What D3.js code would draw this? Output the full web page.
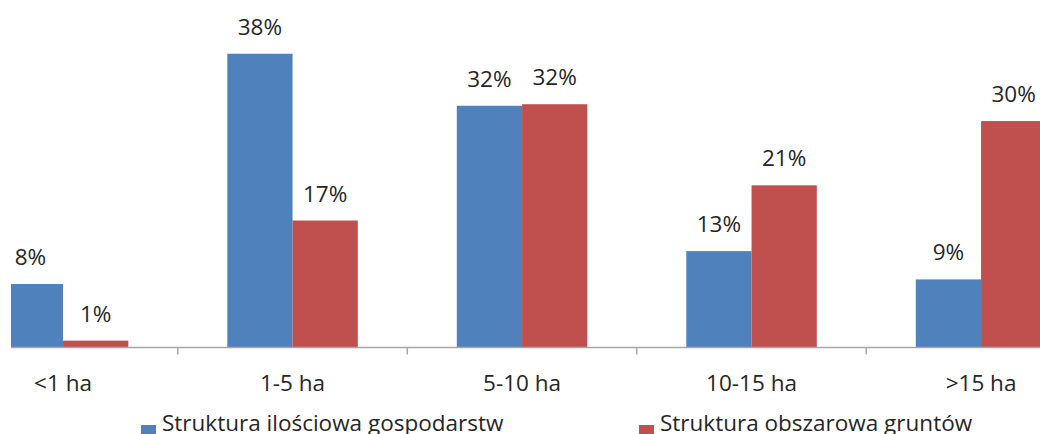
<!DOCTYPE html>
<html>
<head>
<meta charset="utf-8">
<script src="https://cdn.jsdelivr.net/npm/d3@7"></script>
<style>
  body { margin: 0; background: #fff; }
  text { font-family: "Open Sans", "Noto Sans", sans-serif; fill: #262626; }
</style>
</head>
<body>
<div id="chart"></div>
<script>
// Data
var categories = ["<1 ha", "1-5 ha", "5-10 ha", "10-15 ha", ">15 ha"];
var seriesNames = ["Struktura ilościowa gospodarstw", "Struktura obszarowa gruntów"];
var farmsShare = [8.3, 38.4, 31.6, 12.6, 8.9];
var landShare = [0.9, 16.6, 31.8, 21.2, 29.6];
var colors = ["#4F81BD", "#C0504D"];

var width = 1040;
var height = 434;
var baseline = 347.5;
var plotLeft = 11;
var fontSize = "22.5px";

var rows = categories.map(function(c, i) {
  return { cat: c, values: [farmsShare[i], landShare[i]] };
});

// SVG container
var svg = d3.select("#chart")
  .append("svg")
  .attr("width", width)
  .attr("height", height);

svg.append("defs").append("clipPath")
  .attr("id", "plotClip")
  .append("rect")
  .attr("x", plotLeft)
  .attr("y", 0)
  .attr("width", width - plotLeft)
  .attr("height", height);

// Scales (first group is cut by the left edge of the plot, like the original)
var xScale = d3.scaleBand()
  .domain(categories)
  .range([-51.7, 1095.8])
  .paddingInner(0.4314)
  .paddingOuter(0.2157);

var xSub = d3.scaleBand()
  .domain([0, 1])
  .range([0, xScale.bandwidth()]);

var yScale = d3.scaleLinear()
  .domain([0, 40])
  .range([baseline, baseline - 40 * 7.65]);

// Bars
var groups = svg.append("g")
  .attr("clip-path", "url(#plotClip)")
  .selectAll("g.group")
  .data(rows)
  .enter()
  .append("g")
  .attr("class", "group")
  .attr("transform", function(d) { return "translate(" + xScale(d.cat) + ",0)"; });

groups.selectAll("rect")
  .data(function(d) { return d.values; })
  .enter()
  .append("rect")
  .attr("x", function(d, i) { return xSub(i); })
  .attr("y", function(d) { return yScale(d); })
  .attr("width", xSub.bandwidth())
  .attr("height", function(d) { return baseline - yScale(d); })
  .attr("fill", function(d, i) { return colors[i]; });

// Value labels
var labelGroups = svg.append("g")
  .selectAll("g")
  .data(rows)
  .enter()
  .append("g")
  .attr("transform", function(d) { return "translate(" + xScale(d.cat) + ",0)"; });

labelGroups.selectAll("text")
  .data(function(d) { return d.values; })
  .enter()
  .append("text")
  .attr("x", function(d, i) { return xSub(i) + xSub.bandwidth() / 2; })
  .attr("y", function(d) { return yScale(d) - 19; })
  .attr("text-anchor", "middle")
  .attr("font-size", fontSize)
  .text(function(d) { return Math.round(d) + "%"; });

// X axis with tick marks between the groups
var xAxis = d3.axisBottom(xScale).tickSize(0).tickFormat("");
var axisG = svg.append("g")
  .attr("transform", "translate(0," + baseline + ")")
  .call(xAxis);
axisG.select(".domain").remove();

axisG.append("line")
  .attr("x1", plotLeft)
  .attr("x2", width)
  .attr("y1", 0)
  .attr("y2", 0)
  .attr("stroke", "#a6a6a6")
  .attr("stroke-width", 1.5);

axisG.selectAll("line.sep")
  .data(categories.slice(1))
  .enter()
  .append("line")
  .attr("class", "sep")
  .attr("x1", function(d) { return xScale(d) - xScale.step() * xScale.paddingInner() / 2; })
  .attr("x2", function(d) { return xScale(d) - xScale.step() * xScale.paddingInner() / 2; })
  .attr("y1", 0)
  .attr("y2", 7)
  .attr("stroke", "#a6a6a6")
  .attr("stroke-width", 1.5);

axisG.selectAll("text.cat")
  .data(categories)
  .enter()
  .append("text")
  .attr("class", "cat")
  .attr("x", function(d) { return xScale(d) + xScale.bandwidth() / 2; })
  .attr("y", 391 - baseline)
  .attr("text-anchor", "middle")
  .attr("font-size", fontSize)
  .text(function(d) { return d; });

// Legend
var legendX = [141, 639];
var legend = svg.append("g")
  .selectAll("g")
  .data(seriesNames)
  .enter()
  .append("g")
  .attr("transform", function(d, i) { return "translate(" + legendX[i] + ",0)"; });

legend.append("rect")
  .attr("x", 0)
  .attr("y", 425)
  .attr("width", 15)
  .attr("height", 15)
  .attr("fill", function(d, i) { return colors[i]; });

legend.append("text")
  .attr("x", 21)
  .attr("y", 431)
  .attr("font-size", fontSize)
  .text(function(d) { return d; });
</script>
</body>
</html>
